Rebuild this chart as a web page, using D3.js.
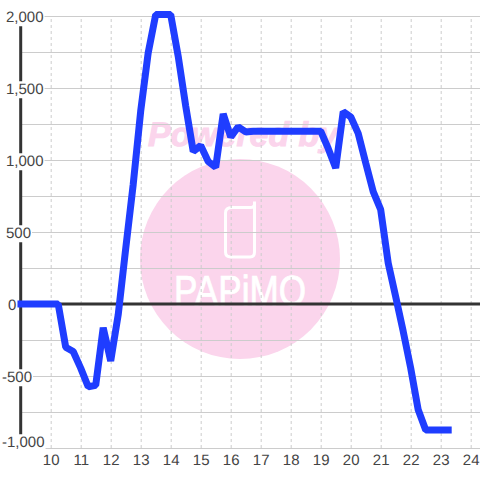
<!DOCTYPE html>
<html lang="en">
<head>
  <meta charset="UTF-8">
  <title>Power by hour</title>
  <script src="https://d3js.org/d3.v7.js"></script>
  <style>
    html, body { margin: 0; background: #fff; }
    svg { display: block; font-family: "Liberation Sans", Arial, sans-serif; text-rendering: geometricPrecision; }
    .tick-label { font-size: 15px; fill: #444; }
  </style>
</head>
<body>
  <svg id="chart" width="480" height="480"></svg>
  <script>
    const hours = [
      9, 9.25, 9.5, 9.75, 10, 10.25, 10.5, 10.75, 11, 11.25, 11.5, 11.75,
      12, 12.25, 12.5, 12.75, 13, 13.25, 13.5, 13.75, 14, 14.25, 14.5, 14.75,
      15, 15.25, 15.5, 15.75, 16, 16.25, 16.5, 16.75, 17, 17.25, 17.5, 17.75,
      18, 18.25, 18.5, 18.75, 19, 19.25, 19.5, 19.75, 20, 20.25, 20.5, 20.75,
      21, 21.25, 21.5, 21.75, 22, 22.25, 22.5, 22.75, 23, 23.25
    ];
    const power = [
      0, 0, 0, 0, 0, 0, -300, -330, -445, -575, -565, -165,
      -395, -75, 385, 830, 1340, 1745, 2010, 2010, 2010, 1720, 1375, 1060,
      1100, 990, 950, 1320, 1160, 1230, 1195, 1200, 1200, 1200, 1200, 1200,
      1200, 1200, 1200, 1200, 1200, 1080, 945, 1335, 1300, 1185, 980, 780,
      655, 285, 50, -190, -445, -735, -875, -875, -875, -875
    ];
    const xTicks = [10, 11, 12, 13, 14, 15, 16, 17, 18, 19, 20, 21, 22, 23, 24];
    const yGridTicks = [-1000, -750, -500, -250, 0, 250, 500, 750, 1000, 1250, 1500, 1750, 2000];
    const yLabelTicks = [-1000, -500, 0, 500, 1000, 1500, 2000];

    const svg = d3.select("#chart");
    const x = d3.scaleLinear().domain([9, 24]).range([20.7, 470.7]);
    const y = d3.scaleLinear().domain([-1000, 2000]).range([448, 16]);

    // watermark sits under the grid
    const mark = svg.append("g");
    mark.append("circle").attr("cx", 240).attr("cy", 259).attr("r", 100).attr("fill", "#fbd5ec");
    mark.append("text")
      .attr("x", 148).attr("y", 146)
      .attr("font-size", 34).attr("font-weight", "bold").attr("font-style", "italic")
      .attr("fill", "#fbd5ec").attr("stroke", "#fbd5ec").attr("stroke-width", 1)
      .attr("textLength", 190).attr("lengthAdjust", "spacingAndGlyphs")
      .text("Powered by");
    mark.append("path")
      .attr("d", "M232 207.5H250Q254.5 207.5 254.5 204V201.5V252Q254.5 257 250 257H231Q225.5 257 225.5 252V213Q225.5 207.5 232 207.5Z")
      .attr("fill", "none").attr("stroke", "#fff").attr("stroke-width", 3).attr("stroke-linecap", "round");
    mark.append("text")
      .attr("x", 174).attr("y", 305)
      .attr("font-size", 42)
      .attr("textLength", 132).attr("lengthAdjust", "spacingAndGlyphs")
      .attr("fill", "#fff").attr("stroke", "#fff").attr("stroke-width", 0.8)
      .text("PAPiMO");

    // grid lines
    const xGrid = svg.append("g")
      .attr("transform", "translate(0,448)")
      .call(d3.axisBottom(x).tickValues(xTicks).tickSize(-432).tickFormat(""));
    xGrid.select(".domain").remove();
    xGrid.selectAll("line").attr("stroke", "#ccc").attr("stroke-dasharray", "3,3");

    const yGrid = svg.append("g")
      .attr("transform", "translate(20.7,0)")
      .call(d3.axisRight(y).tickValues(yGridTicks).tickSize(460).tickFormat(""));
    yGrid.select(".domain").remove();
    yGrid.selectAll("line").attr("stroke", "#ccc").attr("stroke-width", 1.2);

    // zero line and left axis
    svg.append("line")
      .attr("x1", 19).attr("x2", 480)
      .attr("y1", y(0)).attr("y2", y(0))
      .attr("stroke", "#333").attr("stroke-width", 3);
    svg.append("line")
      .attr("x1", 20.7).attr("x2", 20.7)
      .attr("y1", y(2000)).attr("y2", y(-1000))
      .attr("stroke", "#333").attr("stroke-width", 3);

    const line = d3.line()
      .x((d, i) => x(hours[i]))
      .y(d => y(d));

    svg.append("path")
      .datum(power)
      .attr("d", line)
      .attr("fill", "none")
      .attr("stroke", "#1f3dff")
      .attr("stroke-width", 7)
      .attr("stroke-linejoin", "bevel")
      .attr("stroke-linecap", "square");

    // x labels
    const xAxis = svg.append("g")
      .attr("transform", "translate(0,448)")
      .call(d3.axisBottom(x).tickValues(xTicks).tickSize(0).tickPadding(6));
    xAxis.select(".domain").remove();
    xAxis.selectAll("text")
      .attr("class", "tick-label")
      .attr("font-family", null)
      .attr("font-size", null);

    // y labels have a white box that cuts the axis and grid
    const fmt = v => d3.format(",")(v).replace("\u2212", "-");
    const labelX = v => v < 0 ? 2 : v === 0 ? 8 : 6;
    const labelY = v => v === -1000 ? y(v) - 6 : y(v) + 1;
    const yLabels = svg.append("g").selectAll("g")
      .data(yLabelTicks)
      .join("g");
    const labelText = yLabels.append("text")
      .attr("class", "tick-label")
      .attr("x", labelX)
      .attr("y", labelY)
      .attr("dy", "0.35em")
      .text(fmt);
    labelText.each(function () {
      const b = this.getBBox();
      d3.select(this.parentNode).insert("rect", "text")
        .attr("x", b.x).attr("y", b.y)
        .attr("width", b.width + 1).attr("height", b.height)
        .attr("fill", "#fff");
    });
  </script>
</body>
</html>
